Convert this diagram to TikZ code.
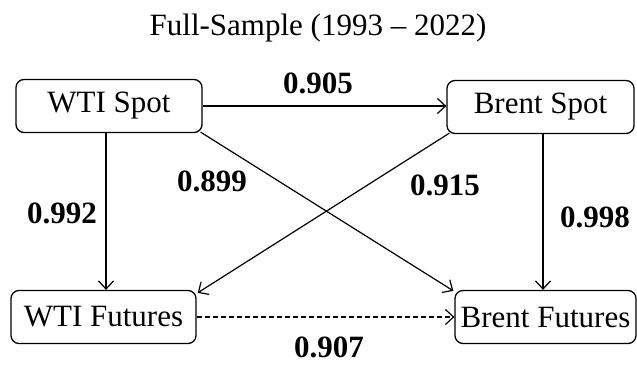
\documentclass[tikz,border=0pt]{standalone}
\usepackage{fontspec}
\setmainfont{Liberation Serif}
\usetikzlibrary{arrows.meta}
\begin{document}
\begin{tikzpicture}[x=1pt,y=-1pt,
  box/.style={draw,line width=1.3pt,rounded corners=8pt,inner sep=0pt,
    minimum height=53pt,font=\fontsize{31}{37}\selectfont},
  coef/.style={font=\fontsize{31}{37}\selectfont\bfseries,inner sep=0pt},
  link/.style={line width=1.2pt,-{Straight Barb[length=8pt,width=15pt,line width=1.2pt]}},
  ]
  \useasboundingbox (0,0) rectangle (637,364);
  % title
  \node[font=\fontsize{31}{37}\selectfont,inner sep=0pt] (title) at (318,28) {Full-Sample (1993 -- 2022)};
  % the four price series
  \node[box,minimum width=186pt] (wspot) at (109,106) {WTI Spot};
  \node[box,minimum width=187pt] (bspot) at (540.5,107) {Brent Spot};
  \node[box,minimum width=185pt] (wfut) at (103.5,317) {WTI Futures};
  \node[box,minimum width=181pt] (bfut) at (545.5,317) {Brent Futures};
  % connections
  \draw[link] (wspot.east) -- (bspot.west |- wspot.east);
  \draw[link] (wspot.south -| 106,0) -- (wfut.north -| 106,0);
  \draw[link] (bspot.south -| 543,0) -- (bfut.north -| 543,0);
  \draw[link] ([shift={(-2,-1)}]wspot.south east) -- ([shift={(-1,1)}]bfut.north west);
  \draw[link] ([shift={(3,-1)}]bspot.south west) -- ([shift={(1,3)}]wfut.north east);
  \draw[link,dashed,dash pattern=on 5pt off 3pt] (wfut.east) -- (bfut.west |- wfut.east);
  % coefficients
  \node[coef] (c905) at (318,83) {0.905};
  \node[coef] (c899) at (212,181) {0.899};
  \node[coef] (c915) at (445,185) {0.915};
  \node[coef] (c992) at (62,213) {0.992};
  \node[coef] (c998) at (595,217) {0.998};
  \node[coef] (c907) at (329,347) {0.907};
\end{tikzpicture}
\end{document}
